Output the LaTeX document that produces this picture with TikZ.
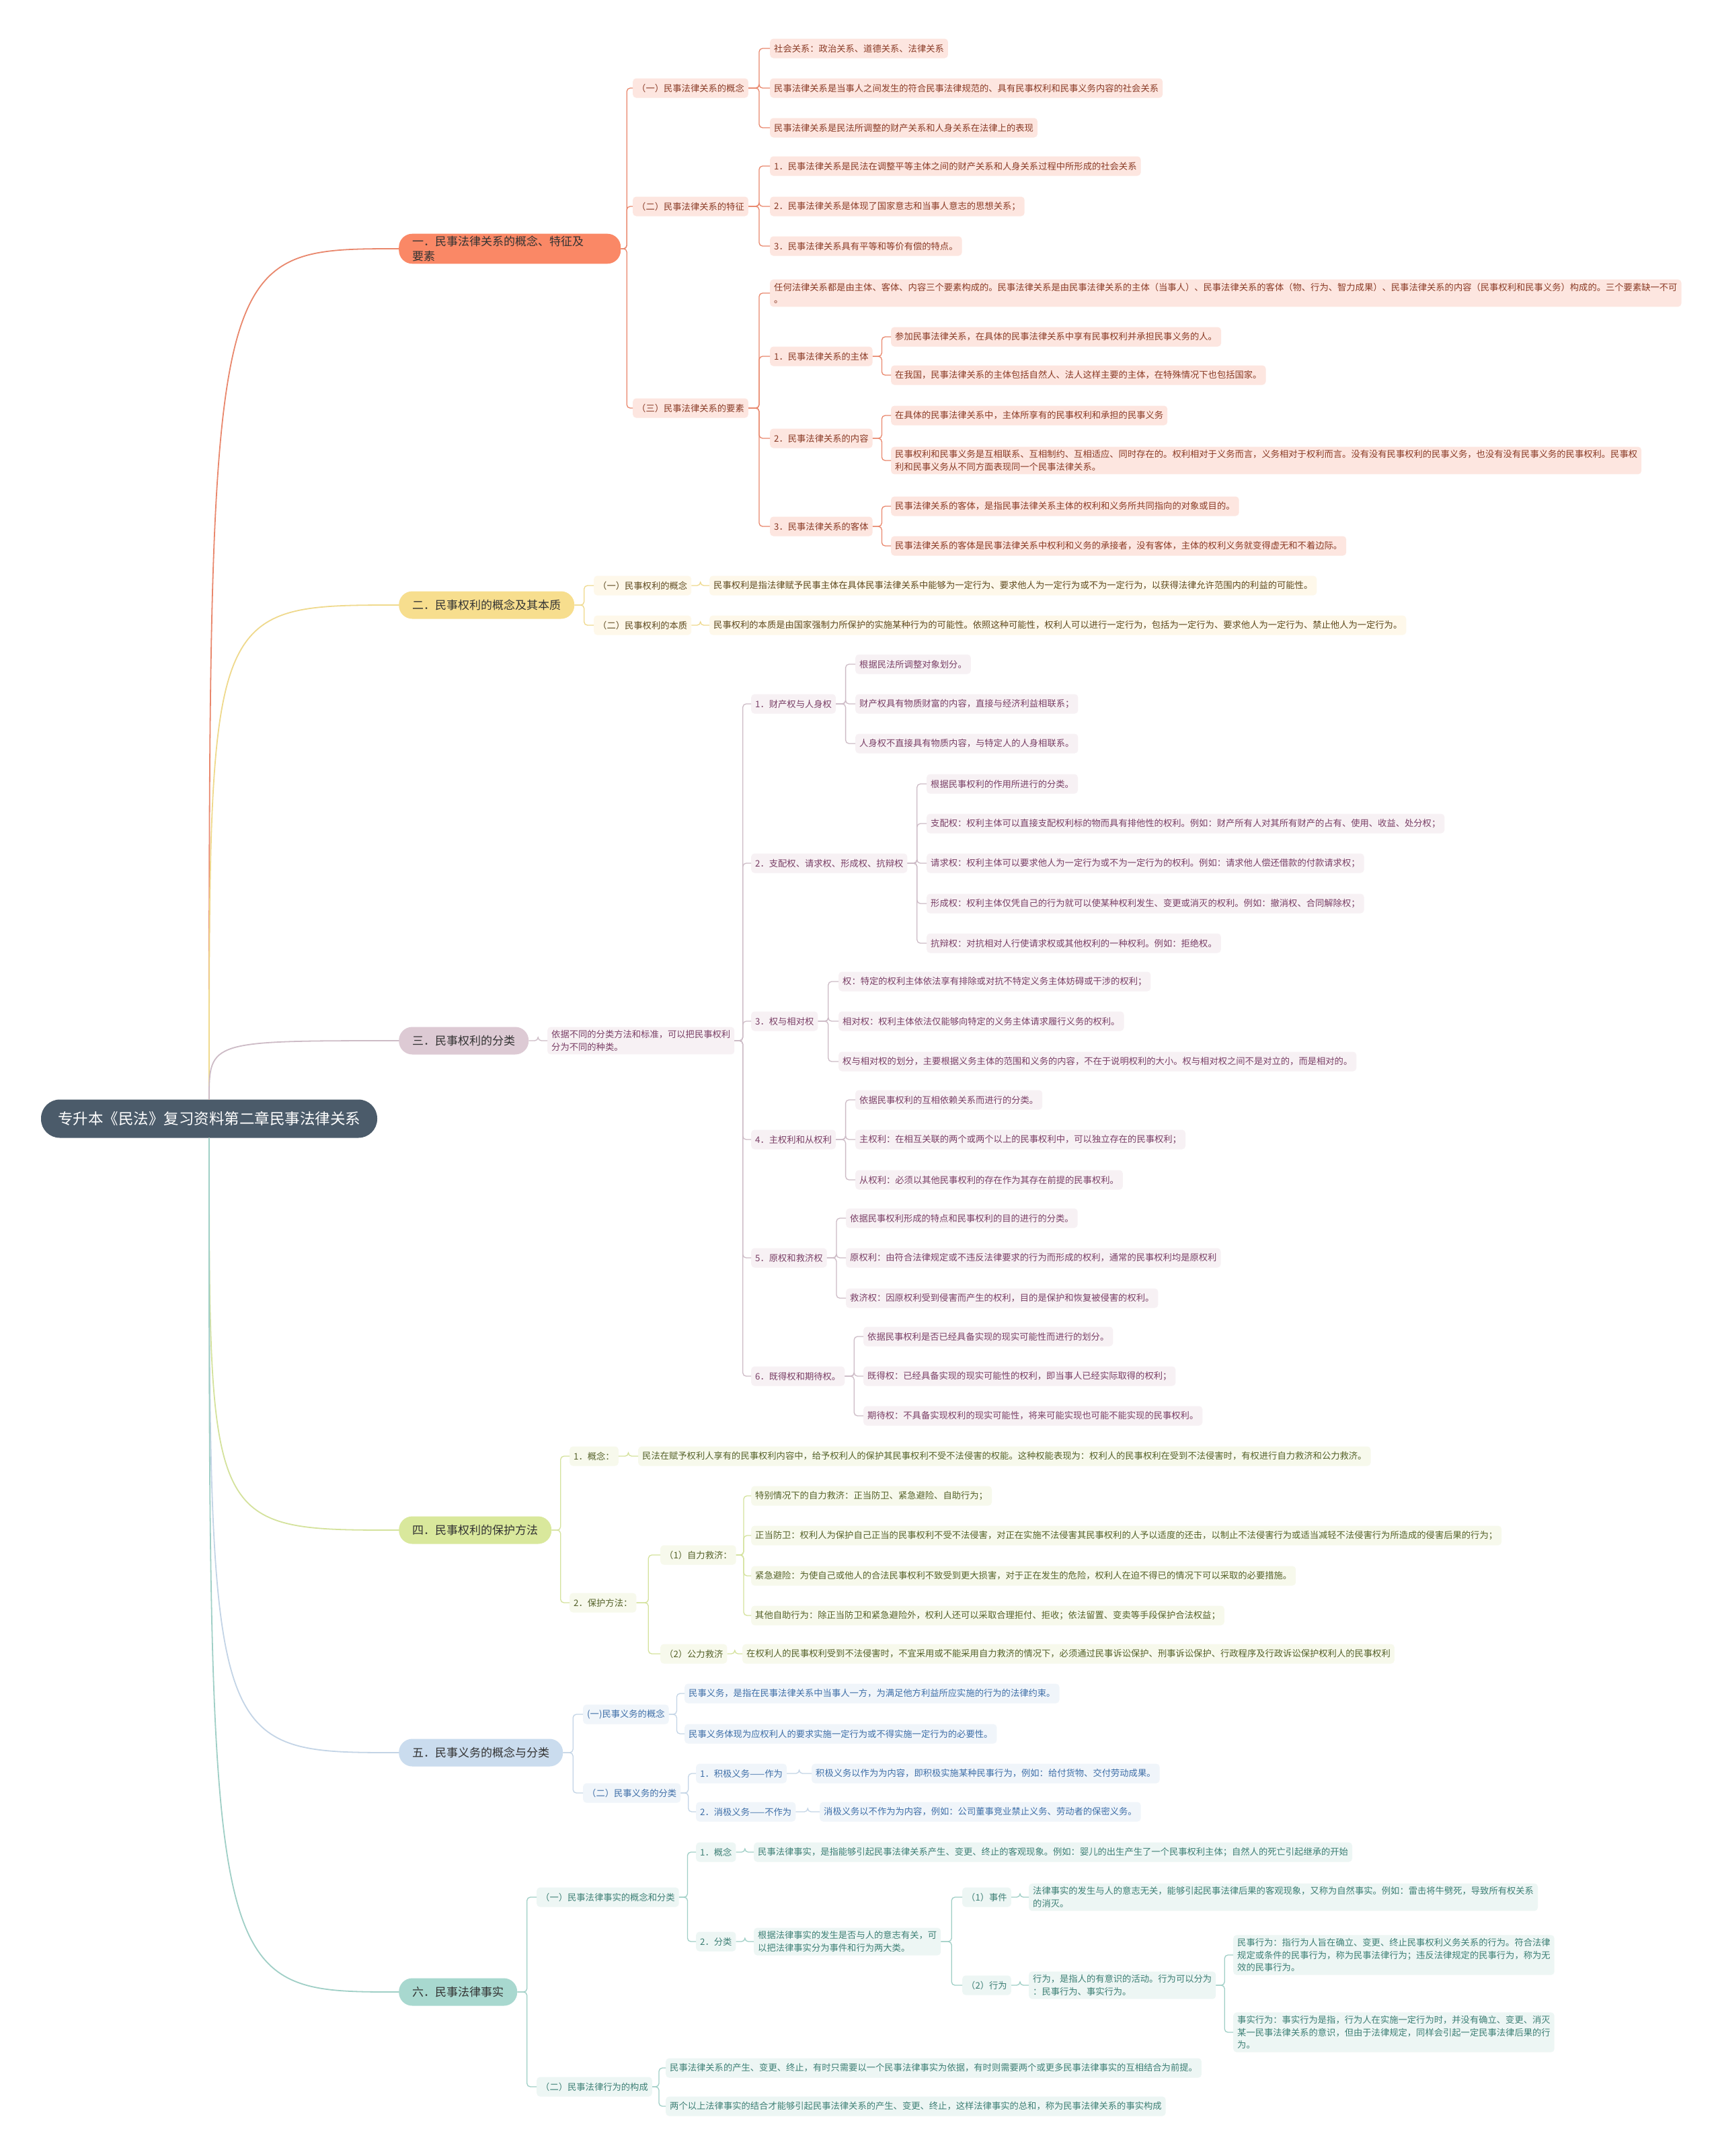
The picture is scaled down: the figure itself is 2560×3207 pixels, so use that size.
\documentclass[tikz,border=0pt]{standalone}
\usepackage{fontspec}
\setmainfont{Noto Sans CJK SC}
\usepackage{tikz}
\usetikzlibrary{calc}
\usepackage{xcolor}

\definecolor{rootfill}{HTML}{4B5B6A}
\definecolor{topictext}{HTML}{333333}
% colours of the six branches: topic fill, line, item fill, item text
\definecolor{bAtop}{HTML}{FA8866}\definecolor{bAline}{HTML}{E9876C}\definecolor{bAfill}{HTML}{FDE6E0}\definecolor{bAtext}{HTML}{8A3B26}
\definecolor{bBtop}{HTML}{F7DE8E}\definecolor{bBline}{HTML}{EFD98C}\definecolor{bBfill}{HTML}{FEF8EA}\definecolor{bBtext}{HTML}{5E4A1F}
\definecolor{bCtop}{HTML}{DDCAD4}\definecolor{bCline}{HTML}{CDBBC6}\definecolor{bCfill}{HTML}{F7F1F4}\definecolor{bCtext}{HTML}{7A3F66}
\definecolor{bDtop}{HTML}{D9E89C}\definecolor{bDline}{HTML}{D4E29C}\definecolor{bDfill}{HTML}{F7F9EC}\definecolor{bDtext}{HTML}{55622A}
\definecolor{bEtop}{HTML}{CADCEE}\definecolor{bEline}{HTML}{C3D4E6}\definecolor{bEfill}{HTML}{F0F5FA}\definecolor{bEtext}{HTML}{3F6FA8}
\definecolor{bFtop}{HTML}{A8D8CF}\definecolor{bFline}{HTML}{9FCFC6}\definecolor{bFfill}{HTML}{EDF6F4}\definecolor{bFtext}{HTML}{3D7F75}

\tikzset{
    rootbox/.style={fill=rootfill, text=white, rounded corners=28, minimum height=57,
        inner xsep=25, font=\fontsize{22.5}{27}\selectfont},
    topic/.style={rounded corners=20, minimum height=41, inner xsep=20, anchor=west,
        text=topictext, font=\fontsize{17}{22}\selectfont},
    item/.style={rounded corners=5, minimum height=29, inner xsep=6, inner ysep=5,
        anchor=west, align=left, font=\fontsize{13.3}{18.5}\selectfont},
    link/.style={rounded corners=5, line width=1.3,
        to path={-- ($(\tikztostart)!0.5!(\tikztotarget |- \tikztostart)$) |- (\tikztotarget)}},
    trunk/.style={line width=1.8},
    bAitem/.style={item, fill=bAfill, text=bAtext}, bAlink/.style={link, draw=bAline},
    bBitem/.style={item, fill=bBfill, text=bBtext}, bBlink/.style={link, draw=bBline},
    bCitem/.style={item, fill=bCfill, text=bCtext}, bClink/.style={link, draw=bCline},
    bDitem/.style={item, fill=bDfill, text=bDtext}, bDlink/.style={link, draw=bDline},
    bEitem/.style={item, fill=bEfill, text=bEtext}, bElink/.style={link, draw=bEline},
    bFitem/.style={item, fill=bFfill, text=bFtext}, bFlink/.style={link, draw=bFline},
}

\begin{document}
\begin{tikzpicture}[x=1pt, y=-1pt]
    % 1. page
    \fill[white] (0,0) rectangle (2560,3207);

    % 2. root and the six topics
    \node[rootbox] (root) at (311,1664) {专升本《民法》复习资料第二章民事法律关系};
    \node[topic, fill=bAtop, text width=290, align=left] (bA) at (593,370) {一．民事法律关系的概念、特征及\\要素};
    \node[topic, fill=bBtop] (bB) at (593,900) {二．民事权利的概念及其本质};
    \node[topic, fill=bCtop] (bC) at (593,1548) {三．民事权利的分类};
    \node[topic, fill=bDtop] (bD) at (593,2276) {四．民事权利的保护方法};
    \node[topic, fill=bEtop] (bE) at (593,2607) {五．民事义务的概念与分类};
    \node[topic, fill=bFtop] (bF) at (593,2963) {六．民事法律事实};

    \draw[trunk, bAline] (root.north) .. controls (root.north |- bA.west) .. (bA.west);
    \draw[trunk, bBline] (root.north) .. controls (root.north |- bB.west) .. (bB.west);
    \draw[trunk, bCline] (root.north) .. controls (root.north |- bC.west) .. (bC.west);
    \draw[trunk, bDline] (root.south) .. controls (root.south |- bD.west) .. (bD.west);
    \draw[trunk, bEline] (root.south) .. controls (root.south |- bE.west) .. (bE.west);
    \draw[trunk, bFline] (root.south) .. controls (root.south |- bF.west) .. (bF.west);

    % 3. topic one
    \node[bAitem] (bA1) at (941,131) {（一）民事法律关系的概念};
    \node[bAitem] (bA2) at (941,307) {（二）民事法律关系的特征};
    \node[bAitem] (bA3) at (941,607) {（三）民事法律关系的要素};
    \node[bAitem] (bA1a) at (1145,72) {社会关系：政治关系、道德关系、法律关系};
    \node[bAitem] (bA1b) at (1145,131) {民事法律关系是当事人之间发生的符合民事法律规范的、具有民事权利和民事义务内容的社会关系};
    \node[bAitem] (bA1c) at (1145,190) {民事法律关系是民法所调整的财产关系和人身关系在法律上的表现};
    \node[bAitem] (bA2a) at (1145,247) {1．民事法律关系是民法在调整平等主体之间的财产关系和人身关系过程中所形成的社会关系};
    \node[bAitem] (bA2b) at (1145,307) {2．民事法律关系是体现了国家意志和当事人意志的思想关系；};
    \node[bAitem] (bA2c) at (1145,366) {3．民事法律关系具有平等和等价有偿的特点。};
    \node[bAitem] (bA3o) at (1145,436) {任何法律关系都是由主体、客体、内容三个要素构成的。民事法律关系是由民事法律关系的主体（当事人）、民事法律关系的客体（物、行为、智力成果）、民事法律关系的内容（民事权利和民事义务）构成的。三个要素缺一不可\\。};
    \node[bAitem] (bA3a) at (1145,530) {1．民事法律关系的主体};
    \node[bAitem] (bA3b) at (1145,652) {2．民事法律关系的内容};
    \node[bAitem] (bA3c) at (1145,783) {3．民事法律关系的客体};
    \node[bAitem] (bA3a1) at (1325,501) {参加民事法律关系，在具体的民事法律关系中享有民事权利并承担民事义务的人。};
    \node[bAitem] (bA3a2) at (1325,558) {在我国，民事法律关系的主体包括自然人、法人这样主要的主体，在特殊情况下也包括国家。};
    \node[bAitem] (bA3b1) at (1325,618) {在具体的民事法律关系中，主体所享有的民事权利和承担的民事义务};
    \node[bAitem] (bA3b2) at (1325,685) {民事权利和民事义务是互相联系、互相制约、互相适应、同时存在的。权利相对于义务而言，义务相对于权利而言。没有没有民事权利的民事义务，也没有没有民事义务的民事权利。民事权\\利和民事义务从不同方面表现同一个民事法律关系。};
    \node[bAitem] (bA3c1) at (1325,753) {民事法律关系的客体，是指民事法律关系主体的权利和义务所共同指向的对象或目的。};
    \node[bAitem] (bA3c2) at (1325,812) {民事法律关系的客体是民事法律关系中权利和义务的承接者，没有客体，主体的权利义务就变得虚无和不着边际。};

    \foreach \kid in {bA1,bA2,bA3} \draw[bAlink] (bA.east) to (\kid.west);
    \foreach \kid in {bA1a,bA1b,bA1c} \draw[bAlink] (bA1.east) to (\kid.west);
    \foreach \kid in {bA2a,bA2b,bA2c} \draw[bAlink] (bA2.east) to (\kid.west);
    \foreach \kid in {bA3o,bA3a,bA3b,bA3c} \draw[bAlink] (bA3.east) to (\kid.west);
    \foreach \kid in {bA3a1,bA3a2} \draw[bAlink] (bA3a.east) to (\kid.west);
    \foreach \kid in {bA3b1,bA3b2} \draw[bAlink] (bA3b.east) to (\kid.west);
    \foreach \kid in {bA3c1,bA3c2} \draw[bAlink] (bA3c.east) to (\kid.west);

    % 4. topic two
    \node[bBitem] (bB1) at (883,871) {（一）民事权利的概念};
    \node[bBitem] (bB2) at (883,930) {（二）民事权利的本质};
    \node[bBitem] (bB1a) at (1055,871) {民事权利是指法律赋予民事主体在具体民事法律关系中能够为一定行为、要求他人为一定行为或不为一定行为，以获得法律允许范围内的利益的可能性。};
    \node[bBitem] (bB2a) at (1055,930) {民事权利的本质是由国家强制力所保护的实施某种行为的可能性。依照这种可能性，权利人可以进行一定行为，包括为一定行为、要求他人为一定行为、禁止他人为一定行为。};

    \foreach \kid in {bB1,bB2} \draw[bBlink] (bB.east) to (\kid.west);
    \draw[bBlink] (bB1.east) to (bB1a.west);
    \draw[bBlink] (bB2.east) to (bB2a.west);

    % 5. topic three
    \node[bCitem] (bCs) at (814,1548) {依据不同的分类方法和标准，可以把民事权利\\分为不同的种类。};
    \node[bCitem] (bC1) at (1117,1047) {1．财产权与人身权};
    \node[bCitem] (bC2) at (1117,1284) {2．支配权、请求权、形成权、抗辩权};
    \node[bCitem] (bC3) at (1117,1519) {3．权与相对权};
    \node[bCitem] (bC4) at (1117,1695) {4．主权利和从权利};
    \node[bCitem] (bC5) at (1117,1871) {5．原权和救济权};
    \node[bCitem] (bC6) at (1117,2047) {6．既得权和期待权。};
    \node[bCitem] (bC1a) at (1272,988) {根据民法所调整对象划分。};
    \node[bCitem] (bC1b) at (1272,1047) {财产权具有物质财富的内容，直接与经济利益相联系；};
    \node[bCitem] (bC1c) at (1272,1106) {人身权不直接具有物质内容，与特定人的人身相联系。};
    \node[bCitem] (bC2a) at (1378,1166) {根据民事权利的作用所进行的分类。};
    \node[bCitem] (bC2b) at (1378,1225) {支配权：权利主体可以直接支配权利标的物而具有排他性的权利。例如：财产所有人对其所有财产的占有、使用、收益、处分权；};
    \node[bCitem] (bC2c) at (1378,1284) {请求权：权利主体可以要求他人为一定行为或不为一定行为的权利。例如：请求他人偿还借款的付款请求权；};
    \node[bCitem] (bC2d) at (1378,1344) {形成权：权利主体仅凭自己的行为就可以使某种权利发生、变更或消灭的权利。例如：撤消权、合同解除权；};
    \node[bCitem] (bC2e) at (1378,1403) {抗辩权：对抗相对人行使请求权或其他权利的一种权利。例如：拒绝权。};
    \node[bCitem] (bC3a) at (1247,1460) {权：特定的权利主体依法享有排除或对抗不特定义务主体妨碍或干涉的权利；};
    \node[bCitem] (bC3b) at (1247,1519) {相对权：权利主体依法仅能够向特定的义务主体请求履行义务的权利。};
    \node[bCitem] (bC3c) at (1247,1579) {权与相对权的划分，主要根据义务主体的范围和义务的内容，不在于说明权利的大小。权与相对权之间不是对立的，而是相对的。};
    \node[bCitem] (bC4a) at (1272,1636) {依据民事权利的互相依赖关系而进行的分类。};
    \node[bCitem] (bC4b) at (1272,1695) {主权利：在相互关联的两个或两个以上的民事权利中，可以独立存在的民事权利；};
    \node[bCitem] (bC4c) at (1272,1755) {从权利：必须以其他民事权利的存在作为其存在前提的民事权利。};
    \node[bCitem] (bC5a) at (1258,1812) {依据民事权利形成的特点和民事权利的目的进行的分类。};
    \node[bCitem] (bC5b) at (1258,1871) {原权利：由符合法律规定或不违反法律要求的行为而形成的权利，通常的民事权利均是原权利};
    \node[bCitem] (bC5c) at (1258,1931) {救济权：因原权利受到侵害而产生的权利，目的是保护和恢复被侵害的权利。};
    \node[bCitem] (bC6a) at (1284,1988) {依据民事权利是否已经具备实现的现实可能性而进行的划分。};
    \node[bCitem] (bC6b) at (1284,2047) {既得权：已经具备实现的现实可能性的权利，即当事人已经实际取得的权利；};
    \node[bCitem] (bC6c) at (1284,2106) {期待权：不具备实现权利的现实可能性，将来可能实现也可能不能实现的民事权利。};

    \draw[bClink] (bC.east) to (bCs.west);
    \foreach \kid in {bC1,bC2,bC3,bC4,bC5,bC6} \draw[bClink] (bCs.east) to (\kid.west);
    \foreach \kid in {bC1a,bC1b,bC1c} \draw[bClink] (bC1.east) to (\kid.west);
    \foreach \kid in {bC2a,bC2b,bC2c,bC2d,bC2e} \draw[bClink] (bC2.east) to (\kid.west);
    \foreach \kid in {bC3a,bC3b,bC3c} \draw[bClink] (bC3.east) to (\kid.west);
    \foreach \kid in {bC4a,bC4b,bC4c} \draw[bClink] (bC4.east) to (\kid.west);
    \foreach \kid in {bC5a,bC5b,bC5c} \draw[bClink] (bC5.east) to (\kid.west);
    \foreach \kid in {bC6a,bC6b,bC6c} \draw[bClink] (bC6.east) to (\kid.west);

    % 6. topic four
    \node[bDitem] (bD1) at (847,2166) {1．概念：};
    \node[bDitem] (bD2) at (847,2384) {2．保护方法：};
    \node[bDitem] (bD1a) at (949,2166) {民法在赋予权利人享有的民事权利内容中，给予权利人的保护其民事权利不受不法侵害的权能。这种权能表现为：权利人的民事权利在受到不法侵害时，有权进行自力救济和公力救济。};
    \node[bDitem] (bD2a) at (982,2313) {（1）自力救济：};
    \node[bDitem] (bD2b) at (982,2460) {（2）公力救济};
    \node[bDitem] (bD2a1) at (1117,2225) {特别情况下的自力救济：正当防卫、紧急避险、自助行为；};
    \node[bDitem] (bD2a2) at (1117,2284) {正当防卫：权利人为保护自己正当的民事权利不受不法侵害，对正在实施不法侵害其民事权利的人予以适度的还击，以制止不法侵害行为或适当减轻不法侵害行为所造成的侵害后果的行为；};
    \node[bDitem] (bD2a3) at (1117,2344) {紧急避险：为使自己或他人的合法民事权利不致受到更大损害，对于正在发生的危险，权利人在迫不得已的情况下可以采取的必要措施。};
    \node[bDitem] (bD2a4) at (1117,2403) {其他自助行为：除正当防卫和紧急避险外，权利人还可以采取合理拒付、拒收；依法留置、变卖等手段保护合法权益；};
    \node[bDitem] (bD2b1) at (1104,2460) {在权利人的民事权利受到不法侵害时，不宜采用或不能采用自力救济的情况下，必须通过民事诉讼保护、刑事诉讼保护、行政程序及行政诉讼保护权利人的民事权利};

    \foreach \kid in {bD1,bD2} \draw[bDlink] (bD.east) to (\kid.west);
    \draw[bDlink] (bD1.east) to (bD1a.west);
    \foreach \kid in {bD2a,bD2b} \draw[bDlink] (bD2.east) to (\kid.west);
    \foreach \kid in {bD2a1,bD2a2,bD2a3,bD2a4} \draw[bDlink] (bD2a.east) to (\kid.west);
    \draw[bDlink] (bD2b.east) to (bD2b1.west);

    % 7. topic five
    \node[bEitem] (bE1) at (867,2550) {(一)民事义务的概念};
    \node[bEitem] (bE2) at (867,2667) {（二）民事义务的分类};
    \node[bEitem] (bE1a) at (1018,2519) {民事义务，是指在民事法律关系中当事人一方，为满足他方利益所应实施的行为的法律约束。};
    \node[bEitem] (bE1b) at (1018,2579) {民事义务体现为应权利人的要求实施一定行为或不得实施一定行为的必要性。};
    \node[bEitem] (bE2a) at (1035,2638) {1．积极义务——作为};
    \node[bEitem] (bE2b) at (1035,2695) {2．消极义务——不作为};
    \node[bEitem] (bE2a1) at (1207,2638) {积极义务以作为为内容，即积极实施某种民事行为，例如：给付货物、交付劳动成果。};
    \node[bEitem] (bE2b1) at (1219,2695) {消极义务以不作为为内容，例如：公司董事竞业禁止义务、劳动者的保密义务。};

    \foreach \kid in {bE1,bE2} \draw[bElink] (bE.east) to (\kid.west);
    \foreach \kid in {bE1a,bE1b} \draw[bElink] (bE1.east) to (\kid.west);
    \foreach \kid in {bE2a,bE2b} \draw[bElink] (bE2.east) to (\kid.west);
    \draw[bElink] (bE2a.east) to (bE2a1.west);
    \draw[bElink] (bE2b.east) to (bE2b1.west);

    % 8. topic six
    \node[bFitem] (bF1) at (798,2822) {（一）民事法律事实的概念和分类};
    \node[bFitem] (bF2) at (798,3104) {（二）民事法律行为的构成};
    \node[bFitem] (bF1a) at (1035,2755) {1．概念};
    \node[bFitem] (bF1b) at (1035,2888) {2．分类};
    \node[bFitem] (bF1a1) at (1121,2755) {民事法律事实，是指能够引起民事法律关系产生、变更、终止的客观现象。例如：婴儿的出生产生了一个民事权利主体；自然人的死亡引起继承的开始};
    \node[bFitem] (bF1b1) at (1121,2888) {根据法律事实的发生是否与人的意志有关，可\\以把法律事实分为事件和行为两大类。};
    \node[bFitem] (bFev) at (1431,2822) {（1）事件};
    \node[bFitem] (bFac) at (1431,2953) {（2）行为};
    \node[bFitem] (bFev1) at (1530,2822) {法律事实的发生与人的意志无关，能够引起民事法律后果的客观现象，又称为自然事实。例如：雷击将牛劈死，导致所有权关系\\的消灭。};
    \node[bFitem] (bFac1) at (1530,2953) {行为，是指人的有意识的活动。行为可以分为\\：民事行为、事实行为。};
    \node[bFitem] (bFac1a) at (1834,2908) {民事行为：指行为人旨在确立、变更、终止民事权利义务关系的行为。符合法律\\规定或条件的民事行为，称为民事法律行为；违反法律规定的民事行为，称为无\\效的民事行为。};
    \node[bFitem] (bFac1b) at (1834,3023) {事实行为：事实行为是指，行为人在实施一定行为时，并没有确立、变更、消灭\\某一民事法律关系的意识，但由于法律规定，同样会引起一定民事法律后果的行\\为。};
    \node[bFitem] (bF2a) at (990,3076) {民事法律关系的产生、变更、终止，有时只需要以一个民事法律事实为依据，有时则需要两个或更多民事法律事实的互相结合为前提。};
    \node[bFitem] (bF2b) at (990,3133) {两个以上法律事实的结合才能够引起民事法律关系的产生、变更、终止，这样法律事实的总和，称为民事法律关系的事实构成};

    \foreach \kid in {bF1,bF2} \draw[bFlink] (bF.east) to (\kid.west);
    \foreach \kid in {bF1a,bF1b} \draw[bFlink] (bF1.east) to (\kid.west);
    \draw[bFlink] (bF1a.east) to (bF1a1.west);
    \draw[bFlink] (bF1b.east) to (bF1b1.west);
    \foreach \kid in {bFev,bFac} \draw[bFlink] (bF1b1.east) to (\kid.west);
    \draw[bFlink] (bFev.east) to (bFev1.west);
    \draw[bFlink] (bFac.east) to (bFac1.west);
    \foreach \kid in {bFac1a,bFac1b} \draw[bFlink] (bFac1.east) to (\kid.west);
    \foreach \kid in {bF2a,bF2b} \draw[bFlink] (bF2.east) to (\kid.west);
\end{tikzpicture}
\end{document}
